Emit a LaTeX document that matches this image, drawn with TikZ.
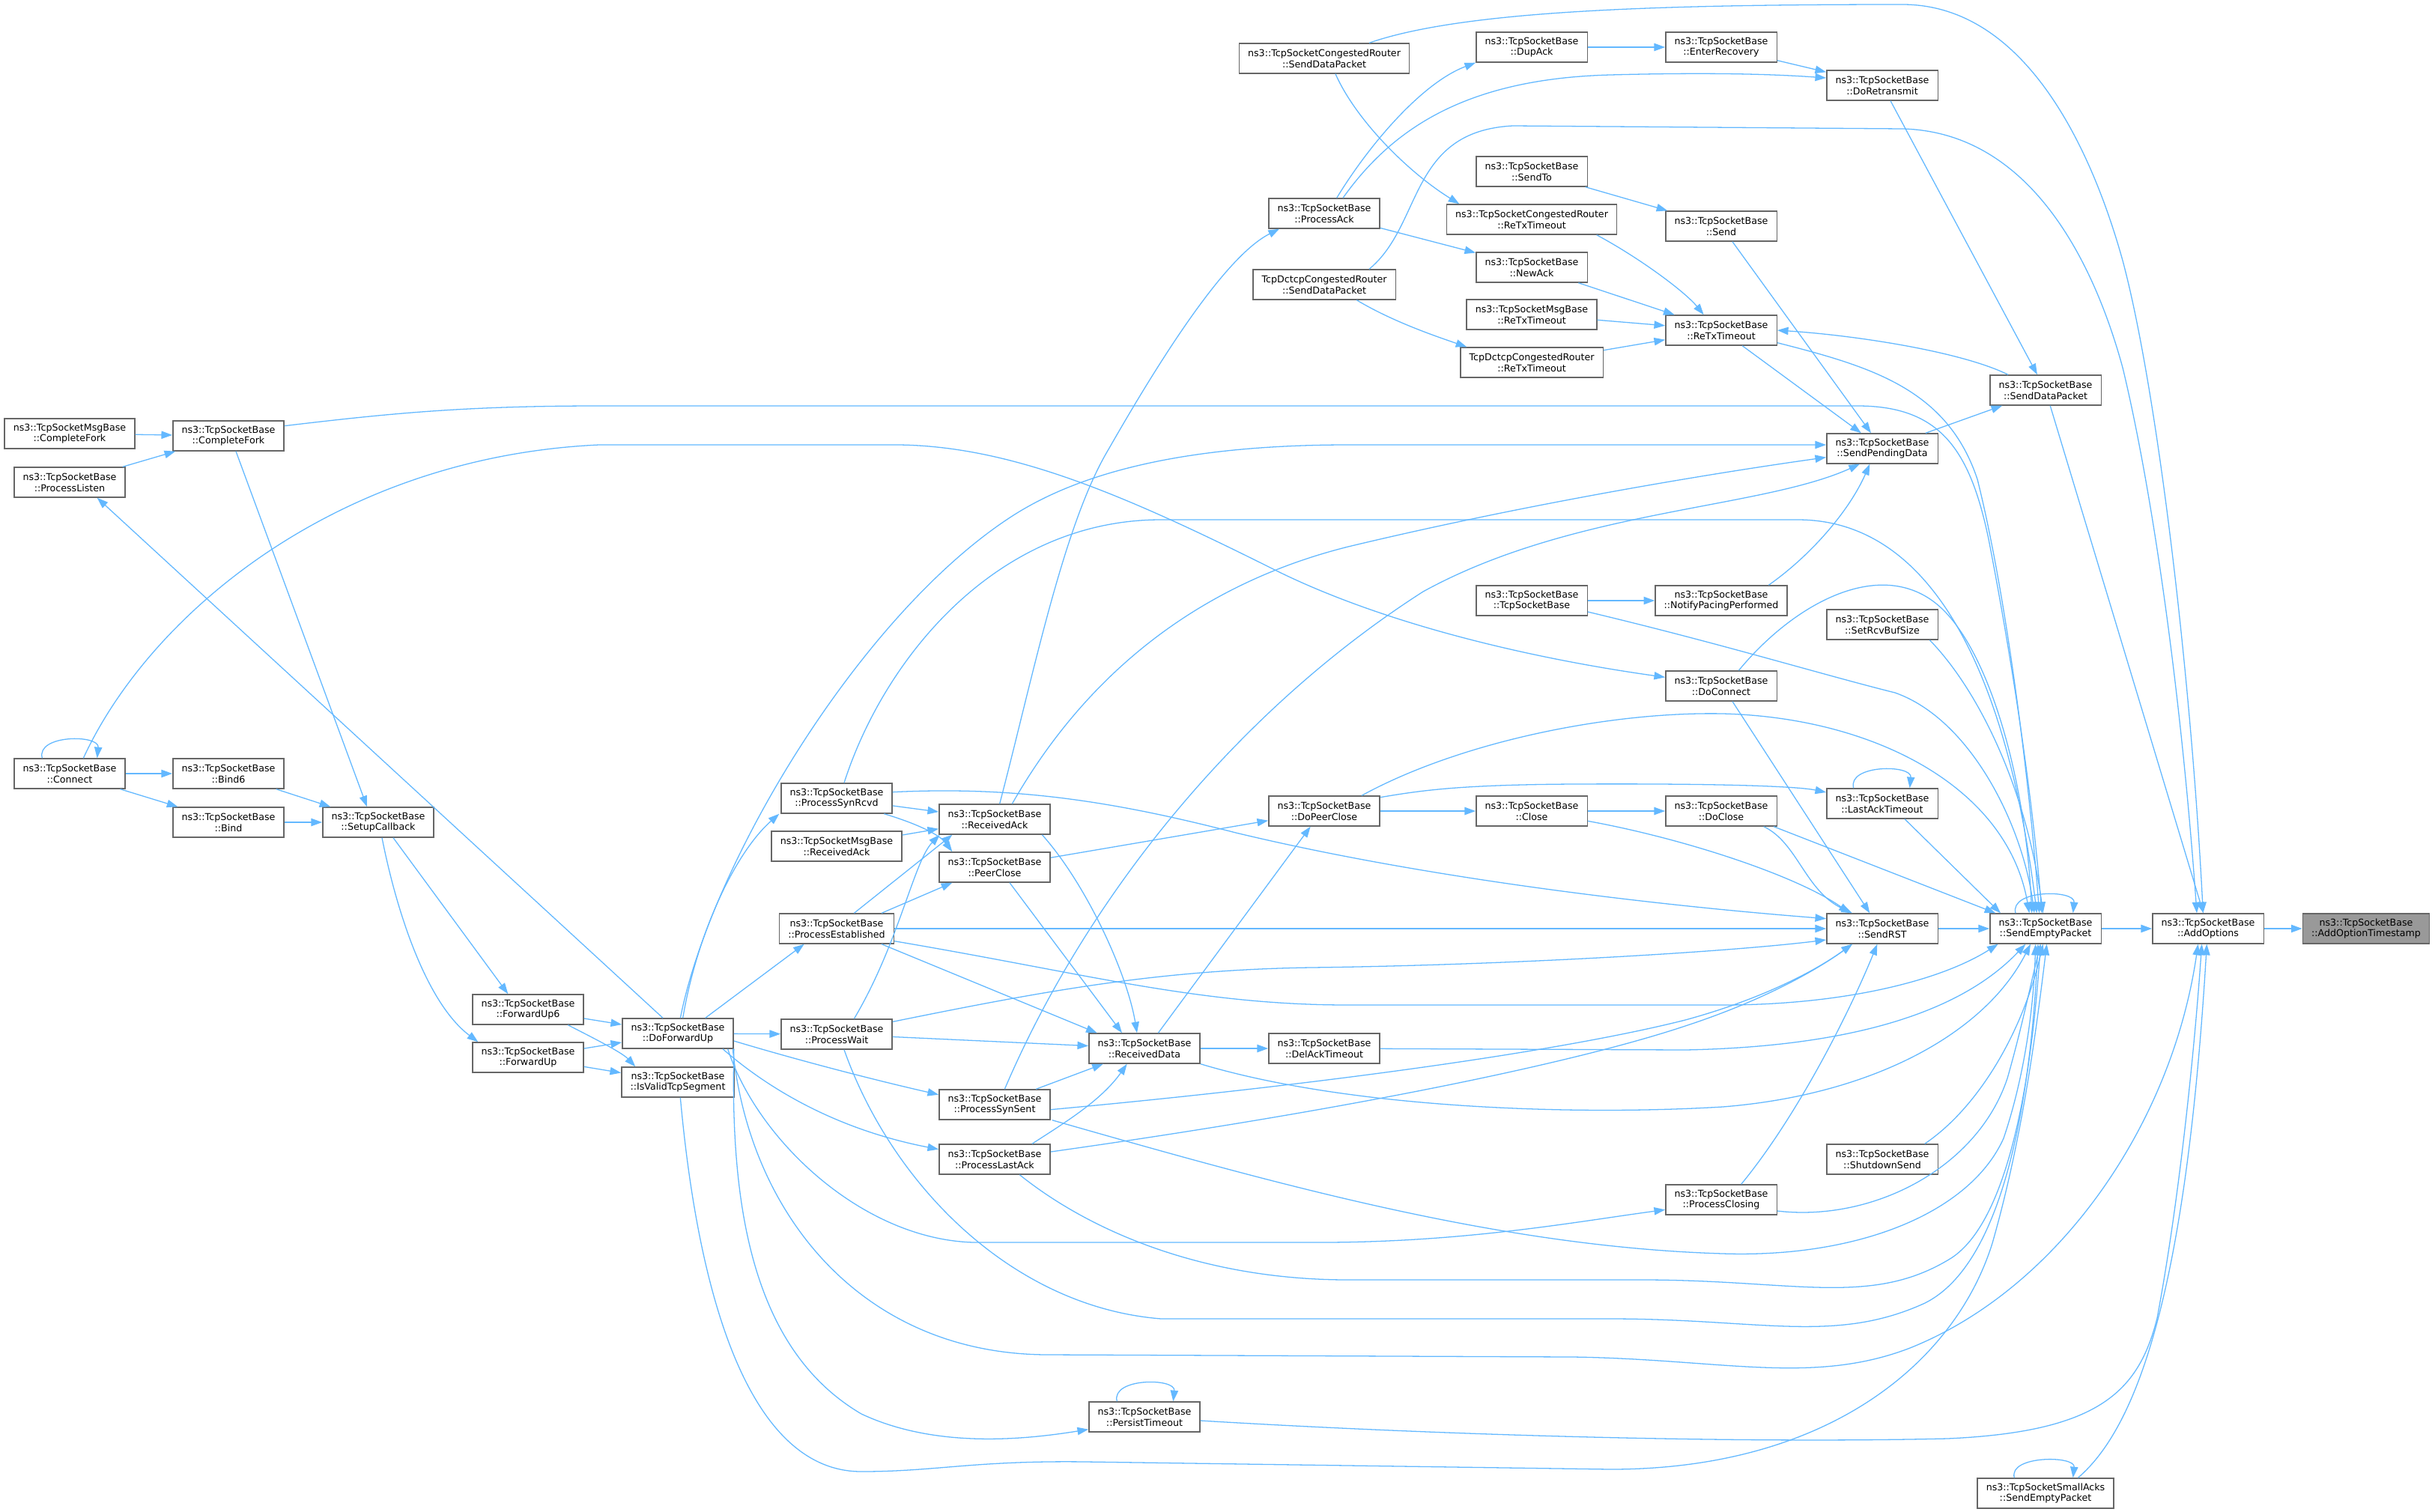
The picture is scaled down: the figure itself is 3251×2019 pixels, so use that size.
\documentclass[tikz,border=0pt]{standalone}
\usepackage{fontspec}
\newfontfamily\dejavu{DejaVu Sans}
\usetikzlibrary{arrows.meta}
\definecolor{edgeblue}{HTML}{63B8FF}
\definecolor{boxgrey}{HTML}{666666}
\definecolor{hlgrey}{HTML}{999999}
\begin{document}
\begin{tikzpicture}[x=0.03cm, y=-0.03cm,
    fn/.style={draw=boxgrey, line width=1.2pt, fill=white, align=center,
      minimum height=1.2cm, inner xsep=10pt, inner ysep=2pt,
      font=\dejavu\fontsize{10.8}{12.6}\selectfont},
    fnroot/.style={fn, fill=hlgrey},
    call/.style={draw=edgeblue, line width=1.1pt,
      -{Triangle[length=0.44cm,width=0.31cm]}}]
  \useasboundingbox (0,0) rectangle (3251,2019);
  \path
    (3159,1240) node[fnroot] (aots) {ns3::TcpSocketBase\\::AddOptionTimestamp}
    (2948,1240) node[fn] (aopt) {ns3::TcpSocketBase\\::AddOptions}
    (2731,1240) node[fn] (sep) {ns3::TcpSocketBase\\::SendEmptyPacket}
    (2731,521) node[fn] (sdp) {ns3::TcpSocketBase\\::SendDataPacket}
    (2513,114) node[fn] (dor) {ns3::TcpSocketBase\\::DoRetransmit}
    (2298,63) node[fn] (enr) {ns3::TcpSocketBase\\::EnterRecovery}
    (2045,63) node[fn] (dup) {ns3::TcpSocketBase\\::DupAck}
    (1768,78) node[fn] (crsdp) {ns3::TcpSocketCongestedRouter\\::SendDataPacket}
    (1768,285) node[fn] (pack) {ns3::TcpSocketBase\\::ProcessAck}
    (2045,229) node[fn] (sto) {ns3::TcpSocketBase\\::SendTo}
    (2045,293) node[fn] (crrtx) {ns3::TcpSocketCongestedRouter\\::ReTxTimeout}
    (2298,302) node[fn] (snd) {ns3::TcpSocketBase\\::Send}
    (2045,357) node[fn] (nack) {ns3::TcpSocketBase\\::NewAck}
    (1768,380) node[fn] (dcsdp) {TcpDctcpCongestedRouter\\::SendDataPacket}
    (2045,420) node[fn] (mrtx) {ns3::TcpSocketMsgBase\\::ReTxTimeout}
    (2298,441) node[fn] (rtx) {ns3::TcpSocketBase\\::ReTxTimeout}
    (2045,484) node[fn] (dcrtx) {TcpDctcpCongestedRouter\\::ReTxTimeout}
    (2513,599) node[fn] (spd) {ns3::TcpSocketBase\\::SendPendingData}
    (2298,802) node[fn] (npp) {ns3::TcpSocketBase\\::NotifyPacingPerformed}
    (2045,802) node[fn] (tsb) {ns3::TcpSocketBase\\::TcpSocketBase}
    (2513,834) node[fn] (srbs) {ns3::TcpSocketBase\\::SetRcvBufSize}
    (2298,916) node[fn] (dcon) {ns3::TcpSocketBase\\::DoConnect}
    (2513,1073) node[fn] (lat) {ns3::TcpSocketBase\\::LastAckTimeout}
    (1768,1083) node[fn] (dpc) {ns3::TcpSocketBase\\::DoPeerClose}
    (2045,1083) node[fn] (cls) {ns3::TcpSocketBase\\::Close}
    (2298,1083) node[fn] (dcl) {ns3::TcpSocketBase\\::DoClose}
    (2513,1240) node[fn] (rst) {ns3::TcpSocketBase\\::SendRST}
    (2513,1548) node[fn] (shs) {ns3::TcpSocketBase\\::ShutdownSend}
    (2298,1602) node[fn] (pcl) {ns3::TcpSocketBase\\::ProcessClosing}
    (1768,1400) node[fn] (dat) {ns3::TcpSocketBase\\::DelAckTimeout}
    (1528,1400) node[fn] (rdat) {ns3::TcpSocketBase\\::ReceivedData}
    (1328,1094) node[fn] (rack) {ns3::TcpSocketBase\\::ReceivedAck}
    (1328,1158) node[fn] (pcls) {ns3::TcpSocketBase\\::PeerClose}
    (1117,1066) node[fn] (psr) {ns3::TcpSocketBase\\::ProcessSynRcvd}
    (1117,1130) node[fn] (mrack) {ns3::TcpSocketMsgBase\\::ReceivedAck}
    (1117,1240) node[fn] (pest) {ns3::TcpSocketBase\\::ProcessEstablished}
    (1117,1381) node[fn] (pwt) {ns3::TcpSocketBase\\::ProcessWait}
    (1328,1475) node[fn] (pss) {ns3::TcpSocketBase\\::ProcessSynSent}
    (1328,1548) node[fn] (pla) {ns3::TcpSocketBase\\::ProcessLastAck}
    (905,1380) node[fn] (dfu) {ns3::TcpSocketBase\\::DoForwardUp}
    (905,1445) node[fn] (ivs) {ns3::TcpSocketBase\\::IsValidTcpSegment}
    (705,1348) node[fn] (fu6) {ns3::TcpSocketBase\\::ForwardUp6}
    (705,1412) node[fn] (fu) {ns3::TcpSocketBase\\::ForwardUp}
    (505,1098) node[fn] (scb) {ns3::TcpSocketBase\\::SetupCallback}
    (305,1033) node[fn] (bnd6) {ns3::TcpSocketBase\\::Bind6}
    (305,1098) node[fn] (bnd) {ns3::TcpSocketBase\\::Bind}
    (93,1033) node[fn] (con) {ns3::TcpSocketBase\\::Connect}
    (305,582) node[fn] (cf) {ns3::TcpSocketBase\\::CompleteFork}
    (93,579) node[fn] (mcf) {ns3::TcpSocketMsgBase\\::CompleteFork}
    (93,644) node[fn] (pls) {ns3::TcpSocketBase\\::ProcessListen}
    (1528,1892) node[fn] (pto) {ns3::TcpSocketBase\\::PersistTimeout}
    (2731,1994) node[fn] (saep) {ns3::TcpSocketSmallAcks\\::SendEmptyPacket};
  \begin{scope}[call]
    \draw (aopt) -- (aots);
    \draw (sep) -- (aopt);
    \draw (rst) -- (sep);
    \draw (sdp) to (aopt);
    \draw ([xshift=1.8cm]crsdp.north) .. controls (1950,15) and (2200,6) .. (2540,6) .. controls (2700,6) and (2790,190) .. (2834,348) .. controls (2880,520) and (2925,900) .. ([xshift=-0.2cm]aopt.north);
    \draw ([xshift=1.8cm]dcsdp.north) .. controls (1900,300) and (1880,175) .. (2020,168) -- (2540,172) .. controls (2700,176) and (2790,330) .. (2834,491) .. controls (2870,640) and (2910,900) .. ([xshift=-0.45cm]aopt.north);
    \draw (dup) -- (enr);
    \draw (enr) to (dor);
    \draw ([xshift=0.75cm]pack.north) .. controls (1860,170) and (1960,105) .. (2150,100) .. controls (2300,96) and (2380,100) .. ([yshift=0.3cm]dor.west);
    \draw ([xshift=0.5cm]pack.north) .. controls (1830,190) and (1900,110) .. (dup.south west);
    \draw (pack) to (nack);
    \draw ([xshift=0.45cm]crsdp.south) .. controls (1810,160) and (1880,230) .. ([xshift=-2.9cm]crrtx.north);
    \draw ([xshift=1.3cm]dcsdp.south) .. controls (1860,430) and (1920,450) .. ([xshift=-2.6cm]dcrtx.north);
    \draw (sto) to (snd);
    \draw ([xshift=2.6cm]crrtx.south) .. controls (2190,345) and (2250,390) .. ([xshift=-0.7cm]rtx.north);
    \draw (nack) to (rtx);
    \draw (mrtx) to (rtx);
    \draw (dcrtx) to (rtx);
    \draw ([xshift=-1.5cm]sdp.north) .. controls (2620,470) and (2480,448) .. (rtx.east);
    \draw (dor) to (sdp);
    \draw (spd) to (sdp);
    \draw (rtx) to (spd);
    \draw (snd) to (spd);
    \draw ([yshift=-0.5cm]rtx.east) .. controls (2500,490) and (2600,520) .. (2640,640) .. controls (2680,800) and (2710,1050) .. ([xshift=-0.25cm]sep.north);
    \draw ([yshift=0.4cm]cf.east) .. controls (520,552) and (620,542) .. (800,542) -- (2480,542) .. controls (2590,542) and (2630,600) .. (2655,720) .. controls (2690,900) and (2715,1080) .. ([xshift=-0.15cm]sep.north);
    \draw ([xshift=0.3cm]psr.north) .. controls (1180,880) and (1330,694) .. (1550,694) -- (2400,694) .. controls (2580,694) and (2680,900) .. ([xshift=-0.35cm]sep.north);
    \draw (tsb) -- (npp);
    \draw ([yshift=-0.45cm]tsb.east) .. controls (2300,860) and (2430,900) .. (2530,925) .. controls (2630,960) and (2700,1100) .. ([xshift=-0.45cm]sep.north);
    \draw ([xshift=1.9cm]npp.north) .. controls (2420,740) and (2470,680) .. ([xshift=-0.5cm]spd.south);
    \draw ([xshift=0.7cm]dcon.north) .. controls (2400,800) and (2520,740) .. (2595,815) .. controls (2660,880) and (2705,1050) .. ([xshift=-0.55cm]sep.north);
    \draw ([xshift=0.45cm]dcon.south) -- ([xshift=-0.5cm]rst.north);
    \draw ([xshift=0.55cm]con.north) .. controls (200,820) and (450,610) .. (800,594) -- (1200,594) .. controls (1350,596) and (1500,660) .. (1700,760) .. controls (1850,835) and (2050,880) .. ([yshift=0.35cm]dcon.west);
    \draw ([xshift=-1.1cm]con.north) .. controls +(-0.25cm,0.95cm) and +(0.1cm,0.95cm) .. ([xshift=1.1cm]con.north);
    \draw (con) -- (bnd6);
    \draw (con) to (bnd);
    \draw (bnd6) to (scb);
    \draw (bnd) -- (scb);
    \draw ([xshift=0.3cm]cf.south) -- ([xshift=-0.45cm]scb.north);
    \draw (mcf) to (cf);
    \draw (pls) to (cf);
    \draw ([xshift=-0.6cm]dfu.north) -- ([xshift=1.1cm]pls.south);
    \draw ([xshift=0.6cm]scb.south) -- ([xshift=-0.8cm]fu6.north);
    \draw ([xshift=0.15cm]scb.south) .. controls (530,1220) and (570,1340) .. ([xshift=-2cm]fu.north);
    \draw (fu6) to (dfu);
    \draw (fu) to (dfu);
    \draw ([xshift=1.6cm]fu6.south) .. controls (790,1385) and (830,1405) .. ([xshift=-1.7cm]ivs.north);
    \draw (fu) to (ivs);
    \draw ([xshift=0.2cm]dfu.north) .. controls (930,1250) and (980,1140) .. ([xshift=-2.3cm]psr.south);
    \draw ([xshift=0.1cm]dfu.north) .. controls (950,1150) and (1150,820) .. (1350,690) .. controls (1450,625) and (1600,594) .. (1800,594) -- ([yshift=0.15cm]spd.west);
    \draw ([xshift=1.1cm]dfu.north) -- ([xshift=-1.3cm]pest.south);
    \draw (dfu) -- (pwt);
    \draw ([yshift=-0.3cm]dfu.east) .. controls (1080,1420) and (1180,1445) .. ([yshift=0.4cm]pss.west);
    \draw ([xshift=1.8cm]dfu.south) .. controls (1010,1440) and (1100,1505) .. ([yshift=0.4cm]pla.west);
    \draw ([xshift=2cm]dfu.south) .. controls (1010,1520) and (1150,1655) .. (1300,1659) -- (1750,1659) .. controls (1950,1660) and (2100,1632) .. ([yshift=-0.4cm]pcl.west);
    \draw ([xshift=2.2cm]dfu.south) .. controls (1000,1620) and (1150,1809) .. (1400,1809) -- (2100,1812) .. controls (2300,1815) and (2420,1850) .. (2550,1800) .. controls (2750,1720) and (2900,1500) .. ([xshift=-0.4cm]aopt.south);
    \draw (dfu.south east) .. controls (975,1600) and (1000,1800) .. (1150,1888) .. controls (1250,1935) and (1370,1922) .. ([yshift=-0.5cm]pto.west);
    \draw ([xshift=0.1cm]ivs.south) .. controls (935,1760) and (1010,1965) .. (1150,1965) .. controls (1250,1965) and (1300,1950) .. (1450,1952) -- (2150,1962) .. controls (2440,1962) and (2610,1820) .. (2660,1660) .. controls (2700,1520) and (2718,1380) .. ([xshift=0.05cm]sep.south);
    \draw (psr) to (rack);
    \draw ([xshift=1.9cm]psr.south) .. controls (1225,1100) and (1255,1115) .. ([xshift=-1.7cm]pcls.north);
    \draw ([yshift=0.25cm]psr.east) .. controls (1350,1050) and (1480,1068) .. (1650,1112) .. controls (1900,1172) and (2200,1208) .. ([yshift=0.4cm]rst.west);
    \draw (mrack) to (rack);
    \draw ([xshift=0.7cm]pest.north) -- ([xshift=-1.7cm]rack.south);
    \draw ([xshift=1.8cm]pest.north) -- ([xshift=-1.7cm]pcls.south);
    \draw (pest) -- (rst);
    \draw ([xshift=1.8cm]pest.south) -- ([xshift=-1.9cm]rdat.north);
    \draw ([yshift=-0.5cm]pest.east) .. controls (1450,1300) and (1600,1342) .. (1800,1342) -- (2300,1342) .. controls (2460,1342) and (2590,1310) .. ([xshift=-1.9cm]sep.south);
    \draw ([xshift=0.7cm]pwt.north) .. controls (1200,1260) and (1220,1150) .. ([xshift=-2.2cm]rack.south);
    \draw (pwt) to (rdat);
    \draw ([yshift=0.5cm]pwt.east) .. controls (1400,1322) and (1550,1295) .. (1750,1292) .. controls (2000,1289) and (2300,1272) .. ([yshift=-0.45cm]rst.west);
    \draw ([xshift=0.3cm]pwt.south) .. controls (1190,1580) and (1350,1745) .. (1550,1761) -- (2150,1761) .. controls (2350,1761) and (2450,1795) .. (2570,1740) .. controls (2680,1685) and (2712,1450) .. ([xshift=-0.3cm]sep.south);
    \draw ([xshift=0.2cm]rack.north) .. controls (1380,900) and (1420,700) .. (1480,600) .. controls (1560,460) and (1640,340) .. ([xshift=-1.8cm]pack.south);
    \draw ([xshift=0.7cm]rack.north) .. controls (1450,900) and (1600,780) .. (1800,730) .. controls (2050,670) and (2300,630) .. ([yshift=-0.35cm]spd.west);
    \draw ([xshift=1.9cm]rack.south) .. controls (1450,1180) and (1505,1300) .. ([xshift=-0.3cm]rdat.north);
    \draw ([xshift=0.6cm]pcls.south) -- ([xshift=-0.9cm]rdat.north);
    \draw (pcls) to (dpc);
    \draw (pss) to (rdat);
    \draw ([xshift=1.5cm]pla.north) .. controls (1420,1500) and (1470,1470) .. ([xshift=-0.7cm]rdat.south);
    \draw ([xshift=0.4cm]pss.north) .. controls (1450,1200) and (1650,950) .. (1900,790) .. controls (2100,680) and (2350,680) .. ([xshift=-0.9cm]spd.south);
    \draw ([yshift=-0.2cm]pss.east) .. controls (1800,1445) and (2100,1400) .. (2250,1362) .. controls (2360,1332) and (2430,1292) .. ([xshift=-1.2cm]rst.south);
    \draw ([yshift=0.3cm]pla.east) .. controls (1800,1482) and (2100,1420) .. (2250,1370) .. controls (2360,1334) and (2430,1292) .. ([xshift=-1.2cm]rst.south);
    \draw ([xshift=2.3cm]pss.south) .. controls (1700,1580) and (2000,1665) .. (2300,1674) .. controls (2480,1680) and (2630,1620) .. (2675,1520) .. controls (2702,1440) and (2715,1350) .. ([xshift=-0.4cm]sep.south);
    \draw ([xshift=1cm]pla.south) .. controls (1450,1640) and (1600,1709) .. (1800,1709) -- (2200,1709) .. controls (2400,1710) and (2500,1745) .. (2605,1680) .. controls (2690,1625) and (2715,1400) .. ([xshift=-0.2cm]sep.south);
    \draw (rdat) -- (dat);
    \draw ([xshift=0.55cm]rdat.north) -- ([xshift=-0.55cm]dpc.south);
    \draw (rdat.south east) .. controls (1800,1480) and (2100,1490) .. (2300,1478) .. controls (2500,1462) and (2650,1380) .. ([xshift=-0.6cm]sep.south);
    \draw (dat) -- (2250,1402) .. controls (2450,1398) and (2610,1360) .. ([xshift=-0.8cm]sep.south);
    \draw (dpc) -- (cls);
    \draw ([xshift=1.5cm]dpc.north) .. controls (1950,990) and (2150,950) .. (2300,953) .. controls (2500,958) and (2680,1050) .. ([xshift=-0.65cm]sep.north);
    \draw ([yshift=0.55cm]dpc.east) .. controls (1900,1055) and (1950,1048) .. (2100,1047) .. controls (2300,1046) and (2400,1050) .. ([yshift=0.45cm]lat.west);
    \draw ([xshift=-1.15cm]lat.north) .. controls +(-0.25cm,0.95cm) and +(0.1cm,0.95cm) .. ([xshift=1.1cm]lat.north);
    \draw ([xshift=0.9cm]lat.south) -- ([xshift=-1.8cm]sep.north);
    \draw (cls) -- (dcl);
    \draw ([yshift=-0.4cm]cls.east) .. controls (2250,1120) and (2400,1170) .. ([xshift=-1.3cm]rst.north);
    \draw ([xshift=1.7cm]dcl.south) .. controls (2400,1125) and (2410,1190) .. ([xshift=-1.2cm]rst.north);
    \draw ([xshift=2.1cm]dcl.south) -- ([xshift=-2cm]sep.north);
    \draw ([xshift=1.9cm]srbs.south) .. controls (2640,920) and (2705,1050) .. ([xshift=-0.1cm]sep.north);
    \draw ([xshift=-1.2cm]sep.north) .. controls +(-0.25cm,0.95cm) and +(0.1cm,0.95cm) .. ([xshift=1.1cm]sep.north);
    \draw ([xshift=1.7cm]shs.north) .. controls (2640,1480) and (2700,1380) .. ([xshift=-0.1cm]sep.south);
    \draw ([yshift=-0.45cm]pcl.east) .. controls (2500,1632) and (2640,1560) .. (2680,1440) .. controls (2700,1370) and (2712,1310) .. ([xshift=-0.2cm]sep.south);
    \draw ([xshift=0.8cm]pcl.north) .. controls (2400,1490) and (2470,1350) .. ([xshift=-0.2cm]rst.south);
    \draw ([xshift=1.3cm]saep.north) .. controls (2860,1900) and (2920,1700) .. ([xshift=-0.05cm]aopt.south);
    \draw ([xshift=-1.25cm]saep.north) .. controls +(-0.25cm,0.9cm) and +(0.1cm,0.9cm) .. ([xshift=1.1cm]saep.north);
    \draw ([yshift=-0.15cm]pto.east) .. controls (1900,1915) and (2300,1928) .. (2600,1921) .. controls (2800,1912) and (2855,1860) .. (2880,1760) .. controls (2910,1600) and (2930,1400) .. ([xshift=-0.25cm]aopt.south);
    \draw ([xshift=-1.1cm]pto.north) .. controls +(-0.25cm,0.95cm) and +(0.1cm,0.95cm) .. ([xshift=1.15cm]pto.north);
  \end{scope}
\end{tikzpicture}
\end{document}
